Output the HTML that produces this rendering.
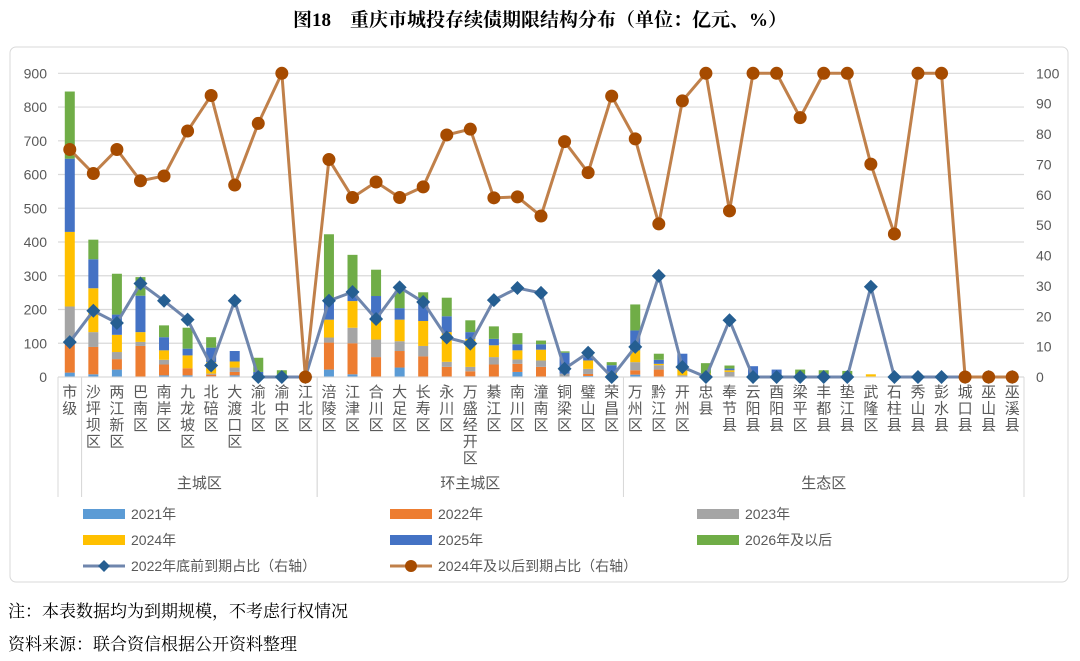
<!DOCTYPE html>
<html><head><meta charset="utf-8">
<style>
body{margin:0;width:1080px;height:661px;background:#fff;font-family:"Liberation Sans","Noto Sans CJK SC",sans-serif;overflow:hidden}
.t{position:absolute;white-space:nowrap}
</style></head><body>
<div class="t" style="left:0;width:1080px;text-align:center;top:5px;font-size:19px;font-weight:bold;font-family:'Liberation Serif','Noto Serif CJK SC',serif">图18　重庆市城投存续债期限结构分布（单位：亿元、%）</div>
<div class="t" style="left:8px;top:597px;font-size:17px;font-family:'Liberation Serif','Noto Serif CJK SC',serif">注：本表数据均为到期规模，不考虑行权情况</div>
<div class="t" style="left:8px;top:630px;font-size:17px;font-family:'Liberation Serif','Noto Serif CJK SC',serif">资料来源：联合资信根据公开资料整理</div>
<svg id="c" width="1080" height="661" style="position:absolute;left:0;top:0"></svg>
<script>
const categories=["市级","沙坪坝区","两江新区","巴南区","南岸区","九龙坡区","北碚区","大渡口区","渝北区","渝中区","江北区","涪陵区","江津区","合川区","大足区","长寿区","永川区","万盛经开区","綦江区","南川区","潼南区","铜梁区","璧山区","荣昌区","万州区","黔江区","开州区","忠县","奉节县","云阳县","酉阳县","梁平区","丰都县","垫江县","武隆区","石柱县","秀山县","彭水县","城口县","巫山县","巫溪县"];
const s2021=[13,8,22,0,5,5,2,5,0,0,0,22,8,0,28,0,0,2,0,15,0,0,3,0,7,0,0,0,0,0,0,0,0,0,0,0,0,0,0,0,0];
const s2022=[84,81,31,92,32,21,5,10,0,0,0,80,92,59,49,61,30,15,37,24,30,0,6,0,13,22,0,0,0,0,0,0,0,0,0,0,0,0,0,0,0];
const s2023=[112,44,21,12,14,0,3,13,0,0,0,15,46,52,29,31,15,13,22,13,19,10,15,5,24,13,5,0,15,0,0,0,0,0,0,0,0,0,0,0,0];
const s2024=[221,130,51,29,28,38,34,18,0,0,0,53,79,57,64,74,88,83,35,27,32,0,25,10,35,4,30,10,5,0,0,3,5,0,8,0,0,0,0,0,0];
const s2025=[217,86,60,108,39,20,43,31,15,3,0,55,26,72,34,59,47,20,19,18,16,62,10,20,59,12,34,0,5,32,22,5,3,3,0,0,0,0,0,0,0];
const s2026=[199,58,121,55,35,62,31,0,42,17,0,198,111,78,52,26,55,35,37,33,11,4,10,9,77,18,0,31,9,0,0,14,12,15,0,0,0,0,0,0,0];
const ratio2022=[11.5,21.8,17.8,30.8,25.1,18.9,3.8,25.1,0,0,0,25.1,28,19.1,29.5,24.7,13,11,25.3,29.3,27.7,2.7,8,0,9.9,33.3,3.3,0,18.7,0,0,0,0,0,29.7,0,0,0,0,0,0];
const ratio2024=[74.9,67,74.9,64.6,66.2,81,92.7,63.2,83.5,100,0,71.6,59.1,64.2,59.1,62.6,79.7,81.6,59,59.3,53,77.5,67.3,92.5,78.4,50.4,90.9,100,54.7,100,100,85.4,100,100,70.1,47.1,100,100,0,0,0];
const leftTicks=[0,100,200,300,400,500,600,700,800,900];
const rightTicks=[0,10,20,30,40,50,60,70,80,90,100];
const groups=[["",0,1],["主城区",1,11],["环主城区",11,24],["生态区",24,41]];
const colors=["#5b9bd5","#ed7d31","#a5a5a5","#ffc000","#4472c4","#70ad47"];
const series=[s2021,s2022,s2023,s2024,s2025,s2026];
const names=["2021年","2022年","2023年","2024年","2025年","2026年及以后"];
</script>
<script>
const svg=document.getElementById('c');const NS='http://www.w3.org/2000/svg';
function E(t,a,p){const e=document.createElementNS(NS,t);for(const k in a)e.setAttribute(k,a[k]);(p||svg).appendChild(e);return e;}
const n=categories.length;
const X0=58,X1=1024,STEP=(X1-X0)/n,Y0=377,YT=73.3;
const xc=i=>X0+STEP*(i+0.5);
const yl=v=>Y0-(Y0-YT)*v/900, yr=v=>Y0-(Y0-YT)*v/100;
let fr=E('rect',{x:10,y:47,width:1058,height:535,rx:6,fill:'none',stroke:'#d9d9d9'});

leftTicks.forEach(v=>{const g=E('line',{x1:X0,x2:X1,y1:yl(v),y2:yl(v),stroke:'#d9d9d9','stroke-width':1.2});

const t=E('text',{x:47,y:yl(v)+5,'text-anchor':'end','font-size':14,fill:'#595959'});t.textContent=v;
});
rightTicks.forEach(v=>{const t=E('text',{x:1036,y:yr(v)+5,'font-size':14,fill:'#595959'});t.textContent=v;
});
categories.forEach((c,i)=>{let cum=0;series.forEach((s,k)=>{const v=s[i];if(v>0){const r=E('rect',{x:xc(i)-5,y:yl(cum+v),width:10,height:yl(cum)-yl(cum+v),fill:colors[k]});
}cum+=v;});
const lab=E('text',{x:xc(i),'font-size':15,fill:'#595959','text-anchor':'middle'});

[...c].forEach((ch,j)=>{const ts=E('tspan',{x:xc(i),y:397+j*16.5},lab);ts.textContent=ch;});});
E('line',{x1:X0,x2:X1,y1:Y0,y2:Y0,stroke:'#d9d9d9'});
groups.forEach(([g,a,b])=>{E('line',{x1:X0+STEP*a,x2:X0+STEP*a,y1:Y0,y2:497,stroke:'#d9d9d9'});
E('line',{x1:X0+STEP*b,x2:X0+STEP*b,y1:Y0,y2:497,stroke:'#d9d9d9'});
const t=E('text',{x:X0+STEP*(a+b)/2,y:488,'font-size':15,fill:'#595959','text-anchor':'middle'});t.textContent=g;
});
function line(arr,col,name){const p=E('polyline',{points:arr.map((v,i)=>xc(i)+','+yr(v)).join(' '),fill:'none',stroke:col,'stroke-width':3});
}
line(ratio2022,'#6f86ad','line-2022-ratio');
ratio2022.forEach((v,i)=>{const x=xc(i),y=yr(v);const m=E('polygon',{points:`${x},${y-7} ${x+7},${y} ${x},${y+7} ${x-7},${y}`,fill:'#255e91'});
});
line(ratio2024,'#c0804a','line-2024-ratio');
ratio2024.forEach((v,i)=>{const m=E('circle',{cx:xc(i),cy:yr(v),r:6.5,fill:'#a64b00'});
});
const lx=[83,390,697];
names.forEach((nm,k)=>{const x=lx[k%3],y=514+26*Math.floor(k/3);
const r=E('rect',{x:x,y:y-5,width:42,height:10,fill:colors[k]});
const t=E('text',{x:x+48,y:y+5,'font-size':14,fill:'#595959'});t.textContent=nm;});
[["2022年底前到期占比（右轴）",'#6f86ad',83,'d'],["2024年及以后到期占比（右轴）",'#c0804a',390,'c']].forEach(([nm,col,x,m])=>{const y=566;
E('line',{x1:x,x2:x+42,y1:y,y2:y,stroke:col,'stroke-width':3});
if(m=='d')E('polygon',{points:`${x+21},${y-6} ${x+27},${y} ${x+21},${y+6} ${x+15},${y}`,fill:'#255e91'});
else E('circle',{cx:x+21,cy:y,r:6,fill:'#a64b00'});
const t=E('text',{x:x+48,y:y+5,'font-size':14,fill:'#595959'});t.textContent=nm;});
</script>
</body></html>
